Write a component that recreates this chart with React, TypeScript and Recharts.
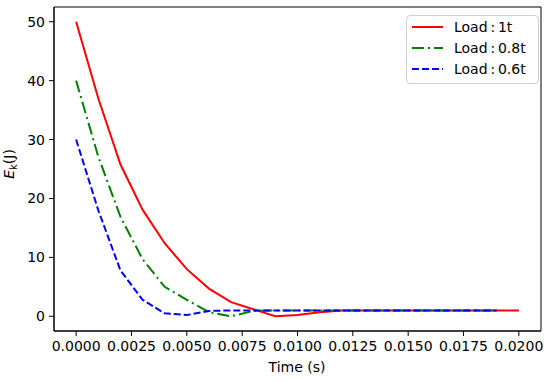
import { LineChart, Line, XAxis, YAxis, Label, ReferenceArea } from "recharts";

// time axis (s)
const time = [
  0, 0.001, 0.002, 0.003, 0.004, 0.005, 0.006, 0.007, 0.008, 0.009, 0.01,
  0.011, 0.012, 0.013, 0.014, 0.015, 0.016, 0.017, 0.018, 0.019, 0.02,
];

// kinetic energy (J) per load
const load1t = [
  50, 37, 25.8, 18.1, 12.4, 8.0, 4.7, 2.4, 1.2, 0.0, 0.2, 0.7, 1.0, 1.0, 1.0,
  1.0, 1.0, 1.0, 1.0, 1.0, 1.0,
];
const load08t = [
  40, 27.1, 16.9, 9.7, 5.0, 2.8, 0.7, 0.0, 0.9, 1.0, 1.0, 1.0, 1.0, 1.0, 1.0,
  1.0, 1.0, 1.0, 1.0, 1.0,
];
const load06t = [
  30, 18, 7.8, 2.8, 0.5, 0.2, 0.9, 1.0, 1.0, 1.0, 1.0, 1.0, 1.0, 1.0, 1.0, 1.0,
  1.0, 1.0, 1.0, 1.0,
];

const xTicks = [0, 0.0025, 0.005, 0.0075, 0.01, 0.0125, 0.015, 0.0175, 0.02];
const yTicks = [0, 10, 20, 30, 40, 50];

const series = [
  { key: "l1", name: "Load\u2009:\u20091t", color: "#ff0000", dash: undefined as string | undefined },
  { key: "l08", name: "Load\u2009:\u20090.8t", color: "#008000", dash: "12 4 2 4" },
  { key: "l06", name: "Load\u2009:\u20090.6t", color: "#0000ff", dash: "7 3" },
];

const data = time.map((t, i) => ({
  t,
  l1: load1t[i],
  l08: load08t[i],
  l06: load06t[i],
}));

const FONT = "'DejaVu Sans', sans-serif";
const tickStyle = { fill: "#000", fontSize: 14, fontFamily: FONT };

function LegendBox() {
  return (
    <div
      style={{
        position: "absolute",
        left: 406,
        top: 15,
        width: 126,
        height: 66,
        border: "1px solid #d0d0d0",
        borderRadius: 4,
        background: "rgba(255,255,255,0.8)",
        padding: "1px 0 0 5px",
        fontFamily: FONT,
        fontSize: 14,
        color: "#000",
      }}
    >
      {series.map((s) => (
        <div
          key={s.key}
          style={{ display: "flex", alignItems: "center", height: 20.8 }}
        >
          <svg width={31} height={6} style={{ marginRight: 11 }}>
            <line
              x1={0}
              y1={3}
              x2={31}
              y2={3}
              stroke={s.color}
              strokeWidth={2}
              strokeDasharray={s.dash}
            />
          </svg>
          <span>{s.name}</span>
        </div>
      ))}
    </div>
  );
}

export default function App() {
  return (
    <div style={{ position: "absolute", left: 0, top: 0, background: "#fff" }}>
      <LineChart
        width={550}
        height={382}
        data={data}
        margin={{ top: 7, right: 9, bottom: 0, left: 0 }}
      >
        <XAxis
          dataKey="t"
          type="number"
          domain={[-0.001, 0.021]}
          ticks={xTicks}
          allowDataOverflow
          tickFormatter={(v: number) => v.toFixed(4)}
          tick={tickStyle}
          tickSize={5}
          tickMargin={5}
          stroke="#000"
          height={51}
          interval={0}
        >
          <Label
            content={() => (
              <text
                x={297}
                y={372}
                textAnchor="middle"
                fontFamily={FONT}
                fontSize={14}
                fill="#000"
              >
                Time (s)
              </text>
            )}
          />
        </XAxis>
        <YAxis
          type="number"
          domain={[-2.5, 52.5]}
          ticks={yTicks}
          allowDataOverflow
          tick={tickStyle}
          tickSize={5}
          tickMargin={4}
          stroke="#000"
          width={54}
          interval={0}
        >
          <Label
            content={() => (
              <text
                transform="translate(14,164) rotate(-90)"
                textAnchor="middle"
                fontFamily={FONT}
                fontSize={14}
                fill="#000"
              >
                <tspan fontStyle="italic">E</tspan>
                <tspan fontSize={10} dy={3}>k</tspan>
                <tspan dy={-3}>(J)</tspan>
              </text>
            )}
          />
        </YAxis>
        <ReferenceArea
          x1={-0.001}
          x2={0.021}
          y1={-2.5}
          y2={52.5}
          fill="none"
          stroke="#000"
          strokeWidth={1}
          ifOverflow="visible"
        />
        {series.map((s) => (
          <Line
            key={s.key}
            dataKey={s.key}
            name={s.name}
            type="linear"
            stroke={s.color}
            strokeWidth={2}
            strokeDasharray={s.dash}
            dot={false}
            isAnimationActive={false}
            connectNulls={false}
          />
        ))}
      </LineChart>
      <LegendBox />
    </div>
  );
}
